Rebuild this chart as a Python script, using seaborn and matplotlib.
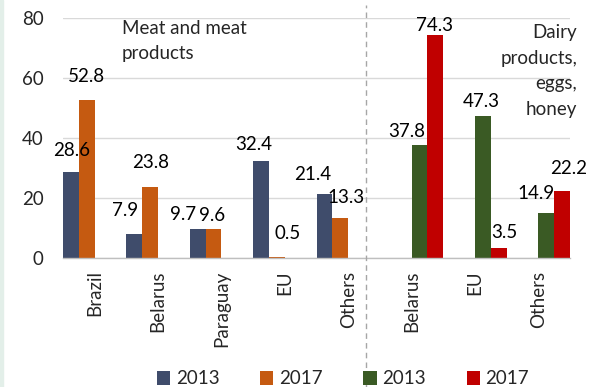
import matplotlib
matplotlib.use("Agg")
import matplotlib.pyplot as plt
from matplotlib.patches import Patch, Rectangle
from matplotlib.lines import Line2D
import pandas as pd
import seaborn as sns

# Categories (two product groups share some country names)
meat_countries = ["Brazil", "Belarus", "Paraguay", "EU", "Others"]
dairy_countries = ["Belarus", "EU", "Others"]

# Shares, %
meat_2013 = [28.6, 7.9, 9.7, 32.4, 21.4]
meat_2017 = [52.8, 23.8, 9.6, 0.5, 13.3]
dairy_2013 = [37.8, 47.3, 14.9]
dairy_2017 = [74.3, 3.5, 22.2]

series_names = ["Meat 2013", "Meat 2017", "Dairy 2013", "Dairy 2017"]
legend_labels = ["2013", "2017", "2013", "2017"]
colors = ["#3f4c6b", "#c55a11", "#3a5a24", "#c00000"]

# Label offsets (pixels) from the top-centre of each bar
offsets = {
    "Meat 2013": [(1, 22), (-9, 24), (-15, 14), (-7, 16), (-12, 19)],
    "Meat 2017": [(0, 23), (0, 24), (-1, 14), (11, 23), (6, 21)],
    "Dairy 2013": [(-13, 13), (-2, 15), (-10, 20)],
    "Dairy 2017": [(-1, 10), (6, 15), (7, 23)],
}

keys = [f"meat|{c}" for c in meat_countries] + [f"dairy|{c}" for c in dairy_countries]
tick_labels = meat_countries + dairy_countries

rows = []
for c, a, b in zip(meat_countries, meat_2013, meat_2017):
    rows.append({"key": f"meat|{c}", "series": "Meat 2013", "value": a})
    rows.append({"key": f"meat|{c}", "series": "Meat 2017", "value": b})
for c, a, b in zip(dairy_countries, dairy_2013, dairy_2017):
    rows.append({"key": f"dairy|{c}", "series": "Dairy 2013", "value": a})
    rows.append({"key": f"dairy|{c}", "series": "Dairy 2017", "value": b})
df = pd.DataFrame(rows)

sns.set_style("white")
plt.rcParams["font.family"] = ["Lato", "DejaVu Sans"]
FS = 13.5

fig = plt.figure(figsize=(5.89, 3.87), dpi=100)
ax = fig.add_axes([63 / 589, (387 - 258) / 387, (570 - 63) / 589, (258 - 18) / 387])

sns.barplot(data=df, x="key", y="value", hue="series", order=keys,
            hue_order=series_names, palette=colors, width=1.0, dodge=True,
            saturation=1, ax=ax, legend=False, linewidth=0, errorbar=None)

ax.set_ylim(0, 80)
ax.set_yticks(range(0, 81, 20))
ax.set_xlim(-0.5, len(keys) - 0.5)
ax.set_xlabel("")
ax.set_ylabel("")
ax.set_xticks(range(len(keys)))
ax.set_xticklabels(tick_labels, rotation=90, fontsize=FS, va="top", ha="center")
ax.tick_params(axis="x", length=0, pad=9)
ax.tick_params(axis="y", length=0, pad=14, labelsize=FS)
ax.yaxis.grid(True, color="#d9d9d9", linewidth=1)
ax.set_axisbelow(True)
for s in ["top", "right", "left"]:
    ax.spines[s].set_visible(False)
ax.spines["bottom"].set_color("#bfbfbf")
ax.spines["bottom"].set_linewidth(1)

# Value labels
for cont, name in zip(ax.containers, series_names):
    bars = [b for b in cont if b.get_height() > 0]
    vals = {"Meat 2013": meat_2013, "Meat 2017": meat_2017,
            "Dairy 2013": dairy_2013, "Dairy 2017": dairy_2017}[name]
    for bar, v, (dx, dy) in zip(bars, vals, offsets[name]):
        ax.annotate(f"{v:.1f}", (bar.get_x() + bar.get_width() / 2, v),
                    xytext=(dx, dy), textcoords="offset pixels",
                    ha="center", va="center", fontsize=FS, color="black",
                    annotation_clip=False)

# Group captions
fig.text(122 / 589, 1 - 41 / 387, "Meat and meat\nproducts", fontsize=FS,
         ha="left", va="center", linespacing=1.6)
fig.text(577 / 589, 1 - 71 / 387, "Dairy\nproducts,\neggs,\nhoney", fontsize=FS,
         ha="right", va="center", linespacing=1.6)

# Separator between product groups
fig.add_artist(Line2D([366 / 589, 366 / 589], [0, 1 - 5 / 387], color="#a6a6a6",
                      linewidth=1, linestyle=(0, (4, 3))))

# Thin side band
fig.add_artist(Rectangle((0, 0), 3 / 589, 1, transform=fig.transFigure,
                         color="#e3efe9", zorder=-1))

handles = [Patch(facecolor=c, edgecolor="none") for c in colors]
fig.legend(handles, legend_labels, loc="center", bbox_to_anchor=(343 / 589, 1 - 379 / 387),
           ncol=4, frameon=False, fontsize=FS, handlelength=0.7, handleheight=0.7,
           handletextpad=0.3, columnspacing=2.18, borderaxespad=0, borderpad=0)

fig.savefig("out.png", dpi=100)
